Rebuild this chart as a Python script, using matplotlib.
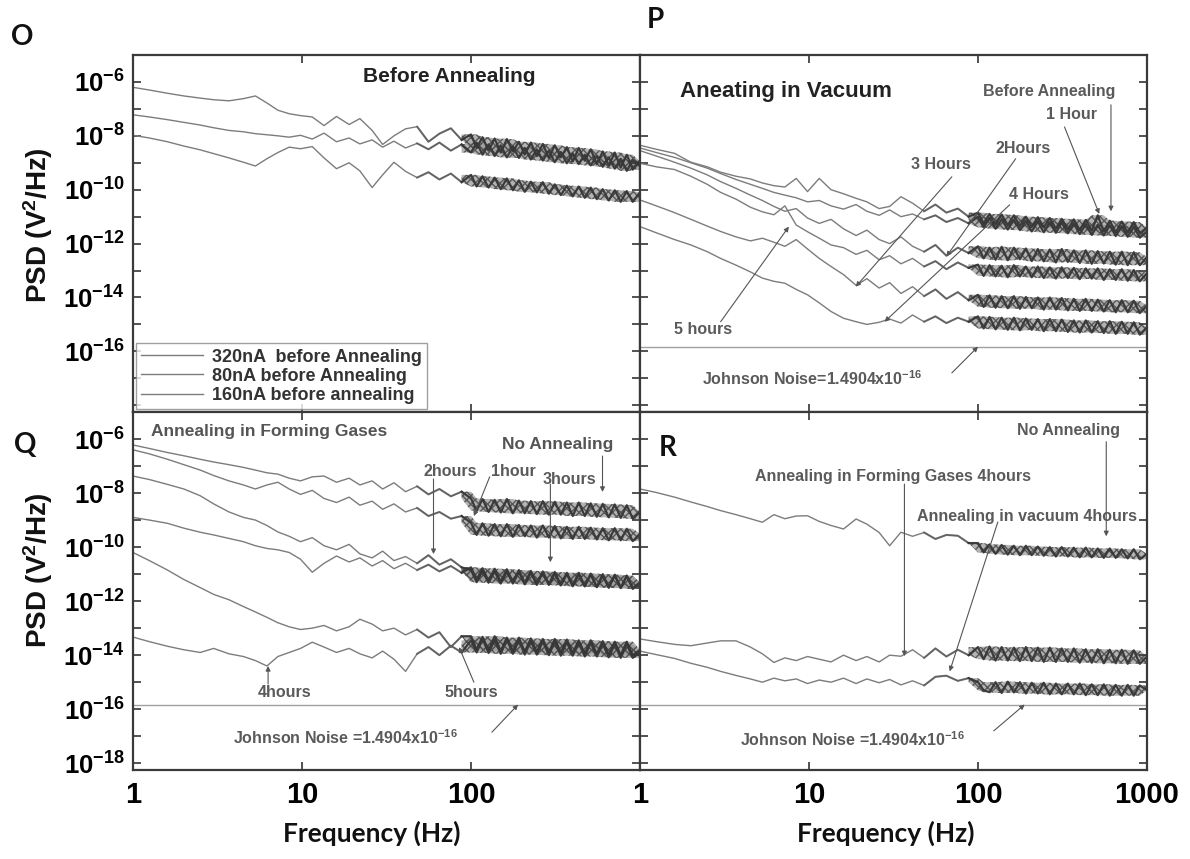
import numpy as np
import matplotlib
matplotlib.use('Agg')
import matplotlib.pyplot as plt
from matplotlib.ticker import NullLocator

plt.rcParams['font.family'] = ['Liberation Sans', 'DejaVu Sans']
plt.rcParams['font.weight'] = 'bold'
plt.rcParams['mathtext.fontset'] = 'custom'
plt.rcParams['mathtext.rm'] = 'Liberation Sans:bold'
plt.rcParams['mathtext.bf'] = 'Liberation Sans:bold'
plt.rcParams['mathtext.it'] = 'Liberation Sans:bold'

# frequency grid (Hz) shared by every spectrum
freq = [1, 1.25, 1.6, 2, 2.5, 3, 3.7, 4.5, 5.3, 6.2, 7.2, 8.4, 9.8, 11.5, 13.5, 16, 19, 22, 26, 30,
        35, 41, 48, 56, 65, 76, 88,
        100, 108, 117, 127, 138, 150, 163, 177, 192, 208, 226, 245, 266, 289, 313, 340, 369, 400,
        434, 471, 511, 555, 602, 653, 709, 769, 835, 906, 1000]
HF = 26   # index from which the traces turn into a dense noisy band

# all spectra below are log10(PSD / V^2Hz^-1)
# --- O: before annealing
o_320nA = [-6.20, -6.30, -6.42, -6.52, -6.60, -6.66, -6.70, -6.62, -6.52, -6.78, -7.05, -7.18, -7.25, -7.30,
           -7.62, -7.28, -7.58, -7.36, -7.80, -8.32, -8.00, -7.74, -7.66, -8.22, -7.92, -7.72, -8.15,
           -7.95, -8.45, -8.05, -8.55, -8.10, -8.62, -8.12, -8.58, -8.22, -8.70, -8.25, -8.75, -8.30, -8.82,
           -8.35, -8.80, -8.42, -8.95, -8.45, -8.92, -8.50, -9.05, -8.58, -9.10, -8.62, -9.18, -8.70, -9.25, -8.95]
o_80nA = [-7.98, -8.08, -8.22, -8.38, -8.52, -8.66, -8.82, -8.98, -9.12, -8.85, -8.62, -8.42, -8.48, -8.40,
          -8.82, -9.22, -9.00, -9.30, -9.92, -9.45, -8.98, -9.32, -9.55, -9.35, -9.62, -9.40, -9.72,
          -9.45, -9.88, -9.50, -9.92, -9.55, -9.98, -9.58, -10.02, -9.65, -10.08, -9.70, -10.10, -9.72, -10.15,
          -9.80, -10.20, -9.85, -10.25, -9.88, -10.30, -9.92, -10.35, -9.98, -10.40, -10.02, -10.45, -10.05, -10.45, -10.10]
o_160nA = [-7.22, -7.30, -7.40, -7.50, -7.60, -7.70, -7.80, -7.85, -7.92, -7.96, -8.00, -8.05, -7.98, -8.12,
           -7.90, -8.22, -8.08, -8.30, -8.15, -8.42, -8.20, -8.45, -8.28, -8.50, -8.25, -8.55, -8.32,
           -8.62, -8.25, -8.70, -8.32, -8.75, -8.35, -8.80, -8.40, -8.82, -8.45, -8.88, -8.50, -8.92, -8.55,
           -8.98, -8.60, -9.02, -8.65, -9.05, -8.70, -9.10, -8.75, -9.15, -8.80, -9.22, -8.85, -9.30, -8.90, -9.12]

# --- P: annealing in vacuum
p_before = [-8.35, -8.50, -8.65, -8.98, -9.15, -9.35, -9.50, -9.60, -9.75, -9.85, -9.90, -9.58, -10.07, -9.58,
            -10.00, -10.15, -10.32, -10.45, -10.70, -10.62, -10.26, -10.50, -10.80, -10.55, -10.85, -10.70, -11.00,
            -10.85, -11.25, -10.90, -11.30, -10.92, -11.32, -10.95, -11.35, -11.00, -11.38, -11.02, -11.40, -11.05, -11.45,
            -11.08, -11.48, -11.10, -11.50, -11.12, -11.52, -10.95, -11.55, -11.15, -11.58, -11.18, -11.60, -11.20, -11.62, -11.40]
p_1h = [-8.45, -8.62, -8.80, -9.00, -9.20, -9.40, -9.62, -9.80, -9.95, -10.10, -10.20, -10.30, -10.45, -10.40,
        -10.60, -10.72, -10.55, -10.80, -10.95, -10.75, -11.00, -10.90, -11.10, -10.95, -11.20, -11.05, -11.25,
        -11.00, -11.40, -11.05, -11.45, -11.10, -11.48, -11.12, -11.50, -11.15, -11.55, -11.18, -11.58, -11.20, -11.60,
        -11.22, -11.62, -11.25, -11.65, -11.28, -11.68, -11.30, -11.70, -11.32, -11.72, -11.35, -11.75, -11.38, -11.78, -11.55]
p_2h = [-8.55, -8.75, -8.98, -9.20, -9.45, -9.70, -9.95, -10.20, -10.40, -10.62, -10.80, -10.70, -11.05, -11.25,
        -11.10, -11.45, -11.70, -11.50, -11.85, -12.00, -11.75, -12.10, -12.30, -12.05, -12.45, -12.15, -12.35,
        -12.10, -12.55, -12.15, -12.60, -12.12, -12.62, -12.15, -12.58, -12.18, -12.65, -12.20, -12.66, -12.22, -12.70,
        -12.20, -12.68, -12.25, -12.72, -12.25, -12.75, -12.28, -12.74, -12.30, -12.78, -12.30, -12.80, -12.32, -12.80, -12.50]
p_3h = [-10.38, -10.60, -10.85, -11.10, -11.35, -11.55, -11.75, -11.90, -11.80, -11.95, -12.10, -11.85, -12.20, -12.55,
        -12.85, -13.15, -13.55, -13.30, -13.65, -13.45, -13.85, -13.60, -13.95, -13.70, -14.05, -13.80, -14.10,
        -13.90, -14.35, -13.92, -14.38, -13.95, -14.40, -13.95, -14.42, -13.98, -14.40, -14.00, -14.45, -14.00, -14.45,
        -14.02, -14.48, -14.05, -14.50, -14.05, -14.50, -14.08, -14.52, -14.10, -14.55, -14.10, -14.55, -14.12, -14.58, -14.30]
p_4h = [-11.37, -11.60, -11.85, -12.05, -12.30, -12.55, -12.80, -13.05, -13.28, -13.40, -13.47, -13.70, -13.90, -14.20,
        -14.52, -14.77, -14.90, -15.00, -14.92, -14.80, -14.95, -14.65, -14.90, -14.70, -14.95, -14.75, -14.90,
        -14.70, -15.15, -14.72, -15.18, -14.75, -15.20, -14.75, -15.22, -14.78, -15.20, -14.80, -15.25, -14.80, -15.25,
        -14.82, -15.28, -14.85, -15.30, -14.85, -15.30, -14.88, -15.32, -14.88, -15.35, -14.90, -15.35, -14.92, -15.38, -15.10]
p_5h = [-9.02, -9.15, -9.25, -9.50, -9.80, -10.10, -10.35, -10.65, -10.82, -10.93, -10.60, -11.31, -11.56, -11.80,
        -12.05, -12.15, -12.40, -12.25, -12.60, -12.45, -12.75, -12.55, -12.85, -12.65, -12.95, -12.70, -12.90,
        -12.78, -13.20, -12.80, -13.22, -12.82, -13.25, -12.80, -13.22, -12.85, -13.25, -12.85, -13.28, -12.88, -13.30,
        -12.88, -13.28, -12.90, -13.32, -12.92, -13.30, -12.92, -13.35, -12.95, -13.35, -12.95, -13.38, -12.98, -13.40, -13.10]

# --- Q: annealing in forming gases
q_none = [-6.22, -6.35, -6.50, -6.62, -6.75, -6.85, -6.95, -7.05, -7.15, -7.25, -7.30, -7.45, -7.55, -7.40,
          -7.37, -7.60, -7.45, -7.70, -7.55, -7.85, -7.62, -7.95, -7.75, -8.05, -7.85, -8.12, -7.95,
          -8.20, -8.65, -8.22, -8.70, -8.25, -8.72, -8.22, -8.75, -8.28, -8.75, -8.30, -8.78, -8.30, -8.80,
          -8.32, -8.80, -8.35, -8.85, -8.35, -8.85, -8.38, -8.88, -8.40, -8.90, -8.42, -8.92, -8.45, -8.95, -8.70]
q_1h = [-6.40, -6.55, -6.75, -6.95, -7.15, -7.35, -7.55, -7.70, -7.85, -7.70, -7.60, -7.85, -8.05, -7.90,
        -8.20, -8.35, -8.15, -8.45, -8.30, -8.60, -8.40, -8.70, -8.55, -8.85, -8.70, -8.95, -8.85,
        -9.10, -9.55, -9.12, -9.58, -9.15, -9.60, -9.15, -9.62, -9.18, -9.60, -9.20, -9.65, -9.20, -9.65,
        -9.22, -9.68, -9.25, -9.70, -9.25, -9.70, -9.28, -9.72, -9.30, -9.75, -9.30, -9.75, -9.32, -9.78, -9.50]
q_2h = [-7.37, -7.50, -7.68, -7.85, -8.10, -8.40, -8.70, -8.90, -9.00, -9.20, -9.44, -9.60, -9.80, -9.65,
        -9.95, -10.10, -9.90, -10.25, -10.40, -10.15, -10.50, -10.35, -10.60, -10.30, -10.65, -10.45, -10.75,
        -10.85, -11.30, -10.88, -11.32, -10.90, -11.35, -10.90, -11.35, -10.92, -11.38, -10.95, -11.40, -10.95, -11.40,
        -10.98, -11.42, -11.00, -11.45, -11.00, -11.45, -11.02, -11.48, -11.05, -11.50, -11.05, -11.50, -11.08, -11.52, -11.30]
q_3h = [-8.90, -9.00, -9.12, -9.30, -9.45, -9.55, -9.68, -9.80, -9.95, -10.05, -10.10, -10.20, -10.45, -10.93,
        -10.60, -10.33, -10.55, -10.40, -10.70, -10.50, -10.80, -10.60, -10.85, -10.65, -10.90, -10.70, -10.95,
        -10.75, -11.20, -10.78, -11.25, -10.80, -11.28, -10.82, -11.30, -10.85, -11.32, -10.88, -11.35, -10.90, -11.38,
        -10.92, -11.40, -10.95, -11.42, -10.95, -11.45, -10.98, -11.48, -11.00, -11.50, -11.02, -11.52, -11.05, -11.55, -11.35]
q_4h = [-13.33, -13.50, -13.67, -13.80, -13.90, -13.75, -13.95, -14.05, -14.20, -14.40, -14.05, -13.90, -13.75, -13.52,
        -13.70, -13.90, -13.75, -13.95, -14.10, -13.85, -14.15, -14.60, -13.95, -13.70, -14.00, -13.65, -13.90,
        -13.45, -13.90, -13.40, -13.92, -13.45, -13.95, -13.42, -13.95, -13.45, -13.98, -13.48, -13.98, -13.50, -14.00,
        -13.50, -14.02, -13.52, -14.02, -13.55, -14.05, -13.55, -14.05, -13.58, -14.08, -13.60, -14.10, -13.60, -14.10, -13.90]
q_5h = [-10.20, -10.50, -10.85, -11.20, -11.50, -11.75, -11.95, -12.20, -12.40, -12.60, -12.80, -12.95, -13.05, -13.00,
        -12.90, -13.10, -12.95, -12.67, -12.85, -13.10, -13.00, -13.25, -13.05, -13.35, -13.15, -13.70, -13.30,
        -13.30, -13.80, -13.32, -13.82, -13.30, -13.85, -13.35, -13.85, -13.35, -13.88, -13.38, -13.88, -13.40, -13.90,
        -13.40, -13.90, -13.42, -13.92, -13.45, -13.95, -13.45, -13.95, -13.48, -13.98, -13.50, -14.00, -13.50, -14.00, -13.80]

# --- R: comparison
r_none = [-7.85, -7.98, -8.15, -8.33, -8.50, -8.65, -8.80, -8.95, -9.08, -8.80, -8.95, -8.85, -8.84, -9.05,
          -9.20, -9.33, -8.96, -9.15, -9.46, -9.95, -9.45, -9.60, -9.46, -9.70, -9.55, -9.58, -9.85,
          -9.85, -10.20, -9.90, -10.25, -9.92, -10.28, -9.95, -10.30, -9.95, -10.30, -9.98, -10.32, -10.00, -10.35,
          -10.00, -10.35, -10.02, -10.38, -10.02, -10.38, -10.05, -10.40, -10.05, -10.40, -10.08, -10.42, -10.08, -10.45, -10.25]
r_forming_4h = [-13.40, -13.50, -13.60, -13.65, -13.55, -13.47, -13.47, -13.70, -13.95, -14.27, -14.10, -14.20, -14.05, -14.15,
                -14.25, -14.00, -14.20, -14.05, -14.25, -14.00, -14.04, -13.80, -14.10, -13.75, -14.05, -13.80, -14.00,
                -13.70, -14.15, -13.68, -14.20, -13.70, -14.20, -13.72, -14.22, -13.70, -14.22, -13.72, -14.25, -13.72, -14.25,
                -13.75, -14.25, -13.75, -14.28, -13.78, -14.28, -13.78, -14.30, -13.80, -14.30, -13.80, -14.32, -13.82, -14.32, -14.05]
r_vacuum_4h = [-13.85, -13.98, -14.12, -14.30, -14.45, -14.60, -14.75, -14.88, -15.00, -14.85, -14.95, -14.88, -15.05, -14.92,
               -15.00, -14.85, -15.05, -14.88, -15.02, -14.90, -15.10, -14.95, -15.12, -14.80, -14.76, -14.95, -14.85,
               -15.00, -15.30, -15.37, -15.00, -15.40, -14.98, -15.38, -15.00, -15.42, -15.02, -15.42, -15.02, -15.45, -15.05,
               -15.45, -15.05, -15.45, -15.05, -15.48, -15.08, -15.48, -15.08, -15.50, -15.10, -15.50, -15.10, -15.50, -15.12, -15.30]

johnson_noise = 1.4904e-16
legend_labels = ['320nA  before Annealing', '80nA before Annealing', '160nA before annealing']


def psd(e):
    return 10.0 ** np.array(e)


W, H = 1190.0, 859.0
fig = plt.figure(figsize=(11.9, 8.59), dpi=100)
ax_o = fig.add_axes([133 / W, 1 - 412 / H, 507 / W, 357 / H])
ax_p = fig.add_axes([640 / W, 1 - 412 / H, 507 / W, 357 / H])
ax_q = fig.add_axes([133 / W, 1 - 770 / H, 507 / W, 358 / H])
ax_r = fig.add_axes([640 / W, 1 - 770 / H, 507 / W, 358 / H])

for ax in (ax_o, ax_p, ax_q, ax_r):
    ax.set_xscale('log')
    ax.set_yscale('log')
    ax.set_xlim(1, 1000)
    ax.set_ylim(10 ** -18.25, 1e-5)
    ax.set_xticks([1, 10, 100, 1000])
    ax.set_yticks([10.0 ** e for e in range(-18, -5)])
    ax.xaxis.set_minor_locator(NullLocator())
    ax.yaxis.set_minor_locator(NullLocator())
    ax.tick_params(direction='in', top=True, right=True, length=6, width=1.2, color='#333')
    ax.tick_params(axis='x', labelsize=21, pad=8)
    ax.tick_params(axis='y', labelsize=18.5, pad=6)
    for s in ax.spines.values():
        s.set_color('#3a3a3a')
        s.set_linewidth(1.6)

# tick labels
ylab_top = ['$10^{%d}$' % e if (e % 2 == 0 and e > -18) else '' for e in range(-18, -5)]
ylab_bot = ['$10^{%d}$' % e if e % 2 == 0 else '' for e in range(-18, -5)]
ax_o.set_yticklabels(ylab_top)
ax_q.set_yticklabels(ylab_bot)
for ax in (ax_p, ax_r):
    ax.set_yticklabels([])
for ax in (ax_o, ax_p):
    ax.set_xticklabels([])
ax_q.set_xticklabels(['1', '10', '100', ''])
ax_r.set_xticklabels(['1', '10', '100', '1000'])


def trace(ax, y, label=None):
    # light trace over the whole range, dark noisy band at high frequency
    ax.plot(freq, psd(y), color='#7c7c7c', lw=1.0, label=label)
    ax.plot(freq[HF - 4:HF + 1], psd(y[HF - 4:HF + 1]), color='#555', lw=1.5, alpha=0.7)
    hf = np.array(y[HF:])
    nb = np.vstack([np.r_[hf[0], hf[:-1]], hf, np.r_[hf[1:], hf[-1]]])
    ax.fill_between(freq[HF:], psd(nb.min(axis=0)), psd(nb.max(axis=0)),
                    facecolor='#9a9a9a', edgecolor='#3a3a3a', hatch='xxxx', lw=0, alpha=0.75)
    ax.plot(freq[HF:], psd(y[HF:]), color='#2a2a2a', lw=1.6, alpha=0.8)


# O
for y, lab in zip([o_320nA, o_80nA, o_160nA], legend_labels):
    trace(ax_o, y, lab)
ax_o.text(74, 10 ** -5.8, 'Before Annealing', ha='center', va='center', fontsize=15, color='#222')
leg = ax_o.legend(loc='lower left', fontsize=13, frameon=True, fancybox=False, edgecolor='#888',
                  borderaxespad=0.15, handlelength=3.4, labelspacing=0.12, borderpad=0.3,
                  handletextpad=0.5)
leg.get_frame().set_linewidth(1.0)
for t in leg.get_texts():
    t.set_color('#333')

arrow_kw = dict(arrowstyle='-|>', color='#555', lw=0.8, mutation_scale=7, shrinkA=0, shrinkB=0)
small = dict(ha='center', va='center', fontsize=11.5, color='#5a5a5a')


def arrow(ax, x0, e0, x1, e1):
    ax.annotate('', xy=(x1, 10 ** e1), xytext=(x0, 10 ** e0), arrowprops=arrow_kw)


# P
for y in [p_before, p_1h, p_2h, p_5h, p_3h, p_4h]:
    trace(ax_p, y)
ax_p.axhline(johnson_noise, color='#a0a0a0', lw=1.0)
ax_p.text(1.72, 10 ** -6.37, 'Aneating in Vacuum', ha='left', va='center', fontsize=16, color='#222')
ax_p.text(265, 10 ** -6.37, 'Before Annealing', **small)
ax_p.text(357, 10 ** -7.22, '1 Hour', **small)
ax_p.text(186, 10 ** -8.48, '2Hours', **small)
ax_p.text(60, 10 ** -9.07, '3 Hours', **small)
ax_p.text(230, 10 ** -10.19, '4 Hours', **small)
ax_p.text(2.35, 10 ** -15.19, '5 hours', **small)
ax_p.text(10.4, 10 ** -17.0, 'Johnson Noise=1.4904x10$^{-16}$', **small)
arrow(ax_p, 612, -6.85, 612, -10.8)
arrow(ax_p, 325, -7.67, 522, -10.9)
arrow(ax_p, 167, -8.85, 65, -12.48)
arrow(ax_p, 70, -9.52, 18.9, -13.6)
arrow(ax_p, 154, -10.56, 28, -14.9)
arrow(ax_p, 3.0, -14.9, 7.6, -11.37)
arrow(ax_p, 70, -16.8, 100, np.log10(johnson_noise))

# Q
for y in [q_none, q_1h, q_2h, q_3h, q_5h, q_4h]:
    trace(ax_q, y)
ax_q.axhline(johnson_noise, color='#a0a0a0', lw=1.0)
ax_q.text(1.28, 10 ** -5.74, 'Annealing in Forming Gases', ha='left', va='center', fontsize=12.5, color='#555')
ax_q.text(324, 10 ** -6.19, 'No Annealing', ha='center', va='center', fontsize=12.5, color='#555')
ax_q.text(75, 10 ** -7.19, '2hours', **small)
ax_q.text(178, 10 ** -7.19, '1hour', **small)
ax_q.text(383, 10 ** -7.48, '3hours', **small)
ax_q.text(7.9, 10 ** -15.37, '4hours', **small)
ax_q.text(100, 10 ** -15.37, '5hours', **small)
ax_q.text(18, 10 ** -17.04, 'Johnson Noise =1.4904x10$^{-16}$', **small)
arrow(ax_q, 600, -6.63, 600, -7.96)
arrow(ax_q, 60, -7.48, 60, -10.26)
arrow(ax_q, 129, -7.4, 104, -8.85)
arrow(ax_q, 295, -7.67, 295, -10.56)
arrow(ax_q, 6.3, -15.07, 6.3, -14.4)
arrow(ax_q, 104, -15.0, 85, -13.7)
arrow(ax_q, 133, -16.85, 190, np.log10(johnson_noise))

# R
for y in [r_none, r_forming_4h, r_vacuum_4h]:
    trace(ax_r, y)
ax_r.axhline(johnson_noise, color='#a0a0a0', lw=1.0)
ax_r.text(344, 10 ** -5.7, 'No Annealing', **small)
ax_r.text(31.6, 10 ** -7.37, 'Annealing in Forming Gases 4hours', **small)
ax_r.text(196, 10 ** -8.85, 'Annealing in vacuum 4hours', **small)
ax_r.text(18, 10 ** -17.11, 'Johnson Noise =1.4904x10$^{-16}$', **small)
arrow(ax_r, 574, -6.1, 574, -9.6)
arrow(ax_r, 36.7, -7.67, 36.7, -14.04)
arrow(ax_r, 131, -9.07, 68, -14.6)
arrow(ax_r, 124, -16.8, 189, np.log10(johnson_noise))

# axis titles and panel letters
for yc in (225, 570):
    fig.text(38 / W, 1 - yc / H, 'PSD (V$^2$/Hz)', rotation=90, ha='center', va='center',
             fontsize=20, color='#111')
for xc in (372, 886):
    fig.text(xc / W, 1 - 833 / H, 'Frequency (Hz)', ha='center', va='center', fontsize=19,
             family=['Lato', 'DejaVu Sans'], fontweight='bold', color='#111')
for lab, xc, yc in [('O', 22, 37), ('P', 655, 20), ('Q', 25, 445), ('R', 668, 448)]:
    fig.text(xc / W, 1 - yc / H, lab, ha='center', va='center', fontsize=20,
             family=['Lato', 'DejaVu Sans'], fontweight='bold', color='#111')

fig.savefig('out.png', dpi=100)
